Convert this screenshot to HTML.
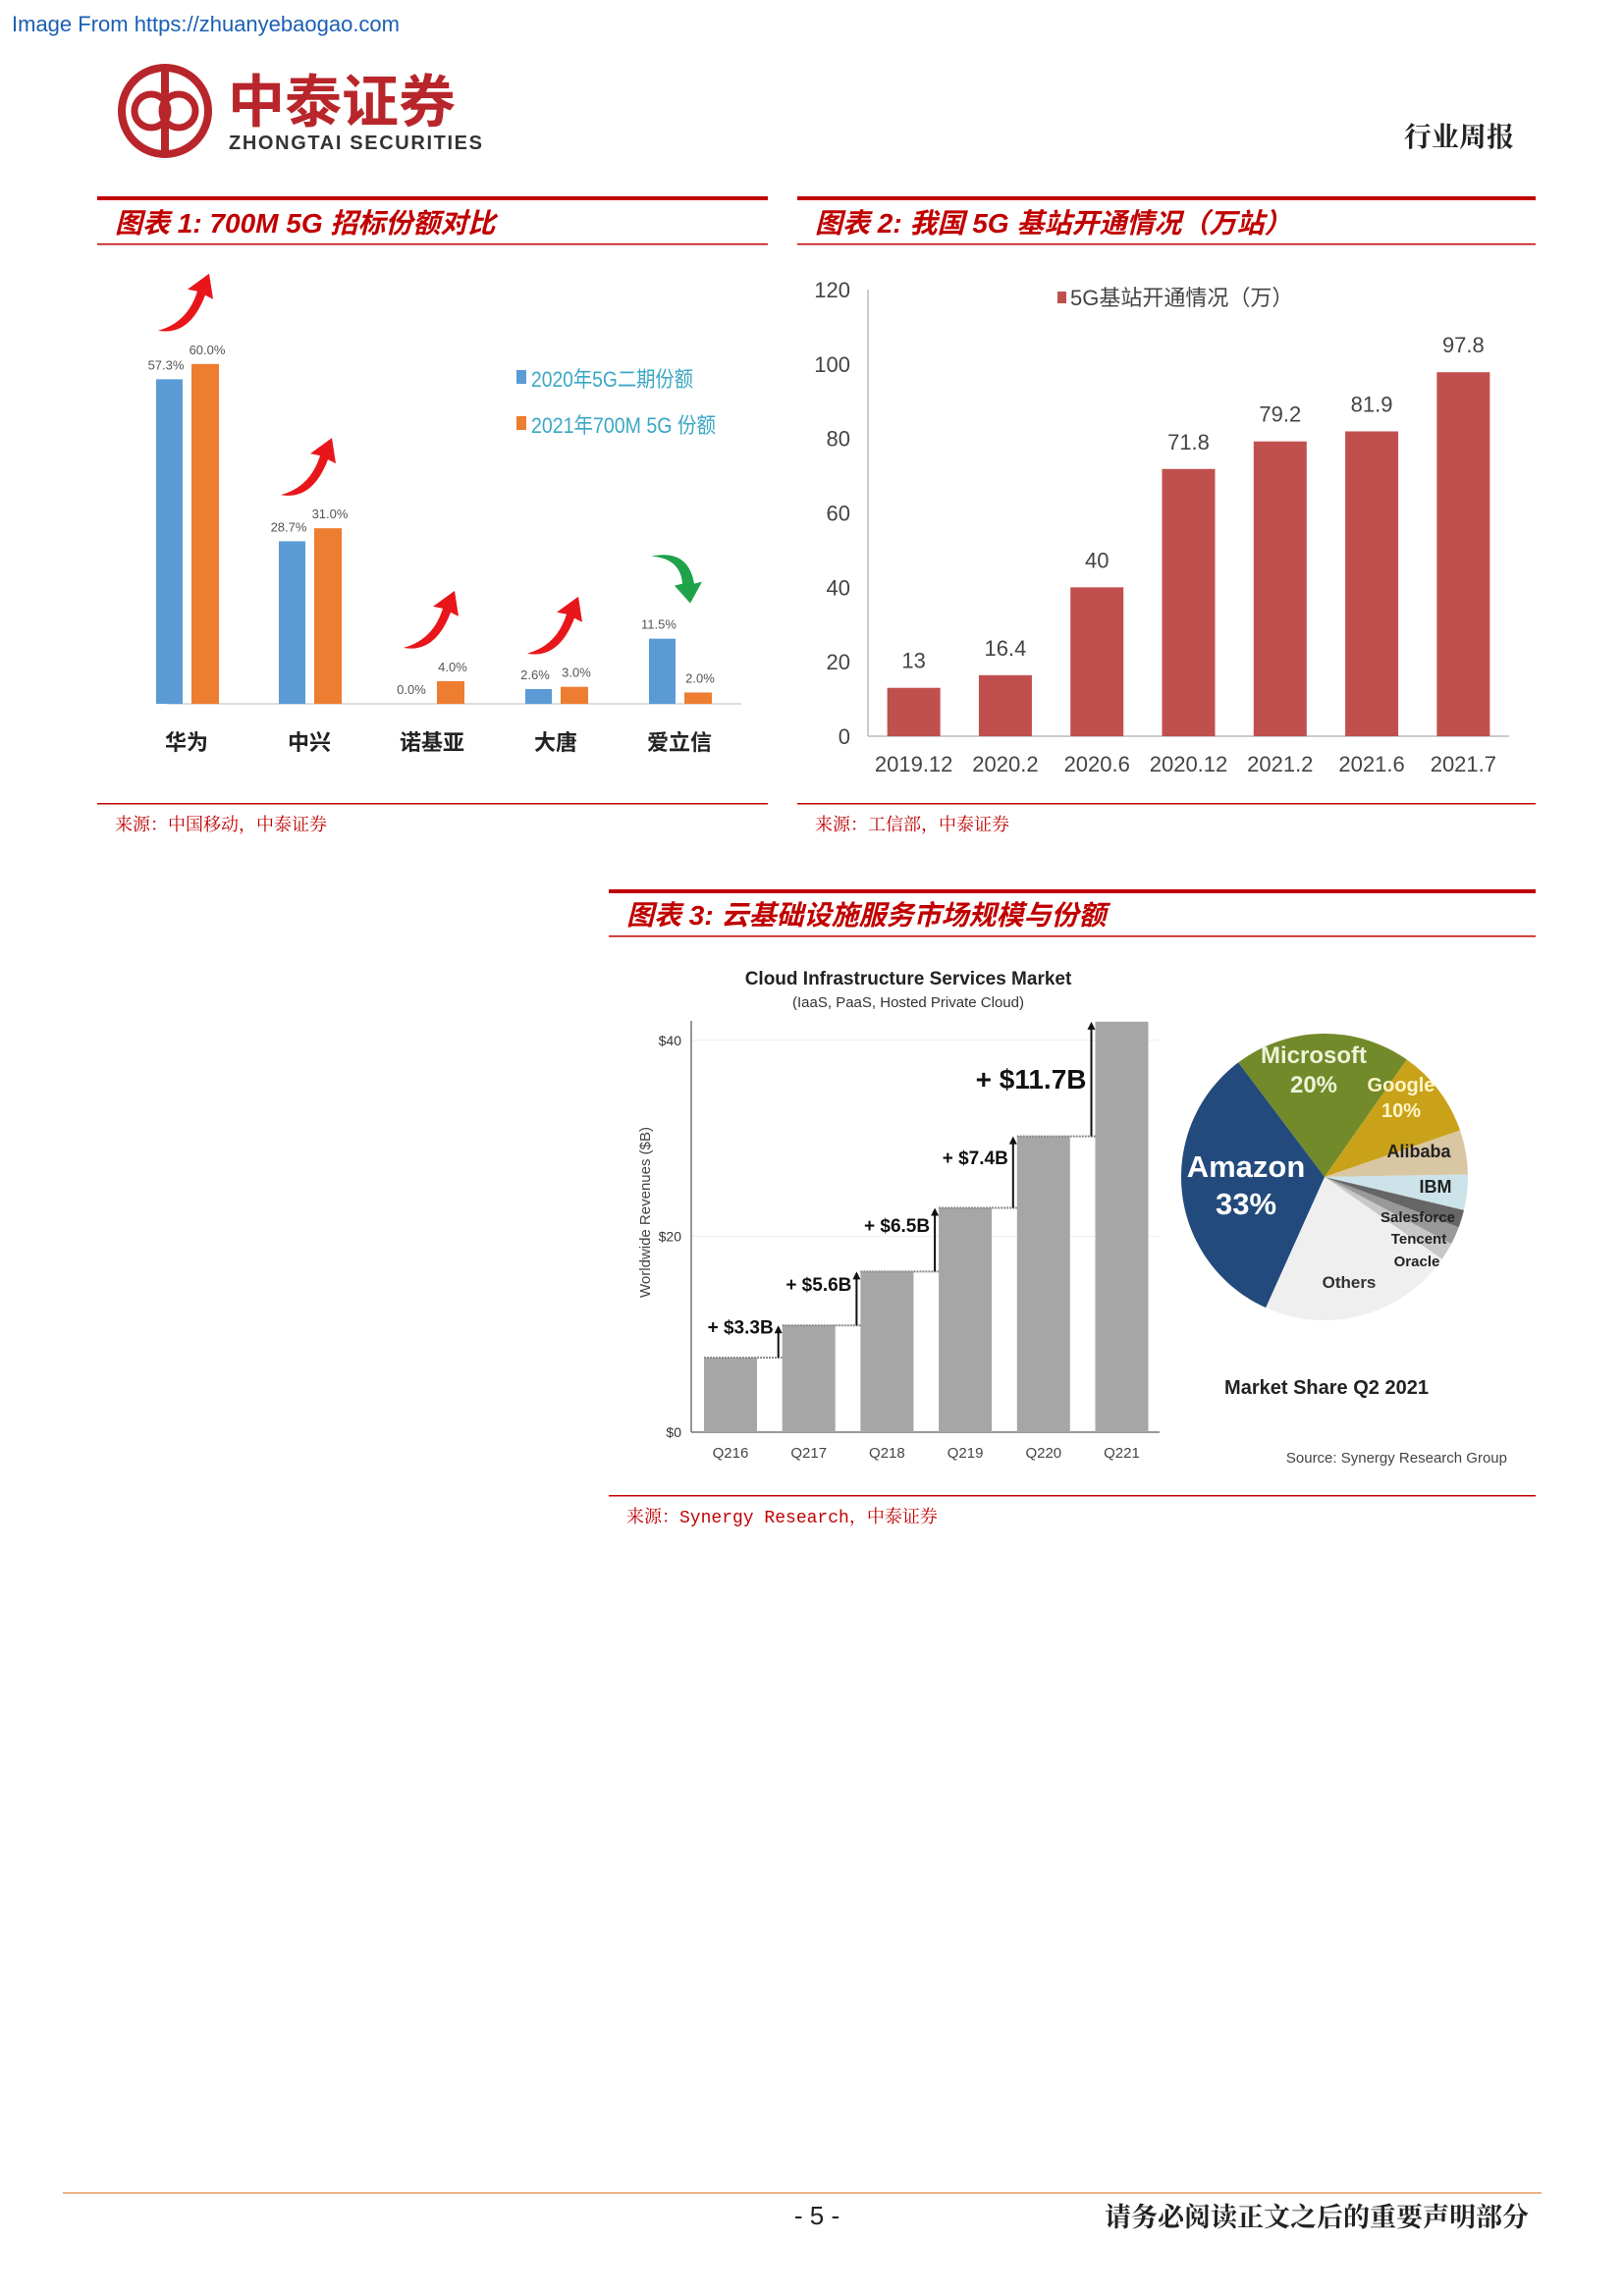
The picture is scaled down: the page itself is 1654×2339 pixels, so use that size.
<!DOCTYPE html>
<html><head><meta charset="utf-8"><style>
html,body{margin:0;padding:0;background:#fff;}
svg{display:block;}
</style></head><body>
<svg id="page" width="1654" height="2339" viewBox="0 0 1654 2339" xmlns="http://www.w3.org/2000/svg" font-family="Liberation Sans, Noto Sans CJK SC, sans-serif">
<text x="12" y="32" font-size="22" fill="#1a5fb4">Image From https://zhuanyebaogao.com</text>
<g>
 <circle cx="168" cy="113" r="44" fill="none" stroke="#b8262b" stroke-width="8"/>
 <circle cx="154" cy="113" r="17" fill="none" stroke="#b8262b" stroke-width="7"/>
 <circle cx="182" cy="113" r="17" fill="none" stroke="#b8262b" stroke-width="7"/>
 <rect x="164" y="70" width="8" height="86" fill="#b8262b"/>
 <text x="232" y="124" font-size="58" font-weight="bold" fill="#b8262b" font-family="Noto Sans CJK SC, sans-serif">中泰证券</text>
 <text x="233" y="152" font-size="20" font-weight="bold" fill="#333" textLength="258">ZHONGTAI SECURITIES</text>
</g>
<text x="1542" y="149" text-anchor="end" font-size="28" font-weight="bold" fill="#222" font-family="Noto Serif CJK SC, serif">行业周报</text>

<g fill="#c00000">
 <rect x="99" y="200" width="683" height="4"/><rect x="99" y="248" width="683" height="1.5"/><rect x="99" y="818" width="683" height="1.5"/>
 <rect x="812" y="200" width="752" height="4"/><rect x="812" y="248" width="752" height="1.5"/><rect x="812" y="818" width="752" height="1.5"/>
 <rect x="620" y="906" width="944" height="4"/><rect x="620" y="953" width="944" height="1.5"/><rect x="620" y="1523" width="944" height="1.5"/>
</g>
<g font-style="italic" font-weight="bold" font-size="28" fill="#c00000" font-family="Liberation Sans, Noto Sans CJK SC, sans-serif">
 <text x="117" y="237">图表 1:  700M 5G 招标份额对比</text>
 <text x="830" y="237">图表 2:  我国 5G 基站开通情况（万站）</text>
 <text x="638" y="942">图表 3:  云基础设施服务市场规模与份额</text>
</g>
<g font-size="18" fill="#c00000" font-family="Liberation Mono, Noto Serif CJK SC, monospace">
 <text x="117" y="846">来源：中国移动，中泰证券</text>
 <text x="830" y="846">来源：工信部，中泰证券</text>
 <text x="638" y="1551">来源：Synergy Research，中泰证券</text>
</g>

<g id="c1"></g>
<g id="c2"></g>
<g id="c3"></g>
<g id="c4"></g>

<rect x="64" y="2233" width="1506" height="2" fill="#e8b38a"/>
<text x="832" y="2266" text-anchor="middle" font-size="26" fill="#222">- 5 -</text>
<text x="1557" y="2268" text-anchor="end" font-size="27" font-weight="bold" fill="#222" font-family="Noto Serif CJK SC, serif">请务必阅读正文之后的重要声明部分</text>
</svg>
<script>
const NS='http://www.w3.org/2000/svg';
function mk(p,t,a,txt){const e=document.createElementNS(NS,t);for(const k in a)e.setAttribute(k,a[k]);if(txt!==undefined)e.textContent=txt;p.appendChild(e);return e;}

// ---- Chart 1 data
const c1Vendors=['华为','中兴','诺基亚','大唐','爱立信'];
const c1Share2020=[57.3,28.7,0.0,2.6,11.5];
const c1Share2021=[60.0,31.0,4.0,3.0,2.0];
const c1Up=[true,true,true,true,false];
// ---- Chart 2 data
const c2Cats=['2019.12','2020.2','2020.6','2020.12','2021.2','2021.6','2021.7'];
const c2Vals=[13,16.4,40,71.8,79.2,81.9,97.8];
const c2Ticks=[0,20,40,60,80,100,120];
// ---- Chart 3 data
const c3Quarters=['Q216','Q217','Q218','Q219','Q220','Q221'];
const c3Revenue=[7.6,10.9,16.4,22.9,30.2,41.9];
const c3Deltas=['+ $3.3B','+ $5.6B','+ $6.5B','+ $7.4B','+ $11.7B'];
const c3Ticks=[0,20,40];
// ---- Pie data
const pieNames=['Microsoft','Google','Alibaba','IBM','Salesforce','Tencent','Oracle','Others','Amazon'];
const pieShares=[20,10,5,4,2,2,2,22,33];

// Chart 1
(function(){
 const g=document.getElementById('c1');
 const base=717, k=5.77, cx=[191,316,441,567,693];
 mk(g,'line',{x1:170,y1:base,x2:755,y2:base,stroke:'#ddd','stroke-width':2});
 const lg=mk(g,'g',{});  
 mk(lg,'rect',{x:526,y:377,width:10,height:14,fill:'#5b9bd5'});
 mk(lg,'text',{x:541,y:394,'font-size':22,fill:'#3aa7c4',textLength:165,lengthAdjust:'spacingAndGlyphs'},'2020年5G二期份额');
 mk(lg,'rect',{x:526,y:424,width:10,height:14,fill:'#ed7d31'});
 mk(lg,'text',{x:541,y:441,'font-size':22,fill:'#3aa7c4',textLength:188,lengthAdjust:'spacingAndGlyphs'},'2021年700M 5G 份额');
 c1Vendors.forEach((v,i)=>{
  const h1=c1Share2020[i]*k,h2=c1Share2021[i]*k;
  const b1=mk(g,'rect',{x:cx[i]-32,y:base-h1,width:27,height:h1,fill:'#5b9bd5'});
  
  
  const b2=mk(g,'rect',{x:cx[i]+4,y:base-h2,width:28,height:h2,fill:'#ed7d31'});
  
  
  mk(g,'text',{x:cx[i]-22,y:base-h1-10,'font-size':13,fill:'#555','text-anchor':'middle'},c1Share2020[i].toFixed(1)+'%');
  mk(g,'text',{x:cx[i]+20,y:base-h2-10,'font-size':13,fill:'#555','text-anchor':'middle'},c1Share2021[i].toFixed(1)+'%');
  mk(g,'text',{x:cx[i]-1,y:764,'font-size':22,'font-weight':'bold',fill:'#222','text-anchor':'middle'},v);
  const top=base-Math.max(h1,h2)-34;
  const ar=mk(g,'path',c1Up[i]?
   {d:`M${cx[i]-30},${top} Q${cx[i]},${top-8} ${cx[i]+10},${top-40} l-10,-2 l22,-16 l4,26 l-8,-4 Q${cx[i]+2},${top+6} ${cx[i]-30},${top}Z`,fill:'#e8161b'}:
   {d:`M${cx[i]-30},${top-50} Q${cx[i]+8},${top-58} ${cx[i]+14},${top-22} l8,-2 l-12,22 l-16,-18 l8,-2 Q${cx[i]},${top-48} ${cx[i]-30},${top-50}Z`,fill:'#1ea34a'});
  
  
 });
})();

// Chart 2
(function(){
 const g=document.getElementById('c2');
 const y0=750,yTop=295,x0=884,x1=1537;
 const y=v=>y0-(v/120)*(y0-yTop);
 const step=(x1-x0)/c2Cats.length;
 mk(g,'line',{x1:x0,y1:yTop,x2:x0,y2:y0,stroke:'#bbb','stroke-width':1.5});
 mk(g,'line',{x1:x0,y1:y0,x2:x1,y2:y0,stroke:'#bbb','stroke-width':1.5});
 c2Ticks.forEach(t=>{mk(g,'text',{x:866,y:y(t)+8,'font-size':22,fill:'#444','text-anchor':'end'},String(t));});
 mk(g,'rect',{x:1077,y:297,width:9,height:12,fill:'#c0504d'});
 const lt=mk(g,'text',{x:1090,y:311,'font-size':22,fill:'#444'},'5G基站开通情况（万）');
 
 
 c2Cats.forEach((c,i)=>{
  const cx=x0+step*(i+0.5);
  const b=mk(g,'rect',{x:cx-27,y:y(c2Vals[i]),width:54,height:y0-y(c2Vals[i]),fill:'#c0504d'});
  
  
  mk(g,'text',{x:cx,y:y(c2Vals[i])-20,'font-size':22,fill:'#444','text-anchor':'middle'},String(c2Vals[i]));
  mk(g,'text',{x:cx,y:786,'font-size':22,fill:'#444','text-anchor':'middle'},c);
 });
})();

// Chart 3 bars
(function(){
 const g=document.getElementById('c3');
 const y0=1459,x0=704,x1=1181,k=9.98;
 const y=v=>y0-v*k;
 mk(g,'text',{x:925,y:1003,'font-size':19,'font-weight':'bold',fill:'#222','text-anchor':'middle'},'Cloud Infrastructure Services Market');
 mk(g,'text',{x:925,y:1026,'font-size':15,fill:'#333','text-anchor':'middle'},'(IaaS, PaaS, Hosted Private Cloud)');
 mk(g,'text',{x:0,y:0,'font-size':15,fill:'#444','text-anchor':'middle',transform:'translate(662,1235) rotate(-90)'},'Worldwide Revenues ($B)');
 c3Ticks.forEach(t=>{
  mk(g,'line',{x1:x0,y1:y(t),x2:x1,y2:y(t),stroke:'#eee','stroke-width':1});
  mk(g,'text',{x:694,y:y(t)+5,'font-size':14,fill:'#333','text-anchor':'end'},'$'+t);
 });
 mk(g,'line',{x1:x0,y1:1040,x2:x0,y2:y0,stroke:'#777','stroke-width':1.5});
 mk(g,'line',{x1:x0,y1:y0,x2:x1,y2:y0,stroke:'#777','stroke-width':1.5});
 const step=79.7;
 c3Quarters.forEach((q,i)=>{
  const bx=717+step*i;
  const b=mk(g,'rect',{x:bx,y:y(c3Revenue[i]),width:54,height:c3Revenue[i]*k,fill:'#a6a6a6'});
  
  
  mk(g,'text',{x:bx+27,y:1485,'font-size':15,fill:'#444','text-anchor':'middle'},q);
  if(i<c3Quarters.length-1){
   const nx=bx+step, ax=nx-4, yv=y(c3Revenue[i]), yn=y(c3Revenue[i+1]);
   mk(g,'line',{x1:bx,y1:yv,x2:nx,y2:yv,stroke:'#888','stroke-width':2,'stroke-dasharray':'2,1'});
   mk(g,'line',{x1:ax,y1:yv,x2:ax,y2:yn+6,stroke:'#111','stroke-width':2});
   mk(g,'path',{d:`M${ax-4},${yn+8} L${ax},${yn} L${ax+4},${yn+8}Z`,fill:'#111'});
   const big=i===c3Quarters.length-2;
   mk(g,'text',{x:ax-5,y:(yv+yn)/2+(big?10:-8),'font-size':big?28:19,'font-weight':'bold',fill:'#111','text-anchor':'end'},c3Deltas[i]);
  }
 });
})();

// Pie
(function(){
 const g=document.getElementById('c4');
 const cx=1349,cy=1199,r=146;
 const cols=['#728a2a','#c9a21a','#d9c6a3','#cde3ea','#666','#999','#c7c7c7','#efefef','#234a7c'];
 let a=-37;
 const pt=(d,rr)=>[cx+rr*Math.sin(d*Math.PI/180),cy-rr*Math.cos(d*Math.PI/180)];
 pieShares.forEach((s,i)=>{
  const span=s*3.6,p1=pt(a,r),p2=pt(a+span,r);
  const sl=mk(g,'path',{d:`M${cx},${cy} L${p1[0]},${p1[1]} A${r},${r} 0 ${span>180?1:0} 1 ${p2[0]},${p2[1]}Z`,fill:cols[i]});
  
  
  a+=span;
 });
 const L=(x,y,t,fs,c)=>mk(g,'text',{x:x,y:y,'font-size':fs,'font-weight':'bold',fill:c,'text-anchor':'middle'},t);
 L(1338,1083,'Microsoft',24,'#eef3d8');L(1338,1113,'20%',24,'#eef3d8');
 L(1427,1112,'Google',20,'#fff6c8');L(1427,1138,'10%',20,'#fff6c8');
 L(1445,1179,'Alibaba',18,'#222');L(1462,1215,'IBM',18,'#222');
 L(1444,1245,'Salesforce',15,'#222');L(1445,1267,'Tencent',15,'#222');L(1443,1290,'Oracle',15,'#222');
 L(1374,1312,'Others',17,'#333');
 L(1269,1199,'Amazon',31,'#fff');L(1269,1237,'33%',31,'#fff');
 L(1351,1420,'Market Share Q2 2021',20,'#222');
 mk(g,'text',{x:1535,y:1490,'font-size':15,fill:'#444','text-anchor':'end'},'Source: Synergy Research Group');
})();
</script>
</body></html>
